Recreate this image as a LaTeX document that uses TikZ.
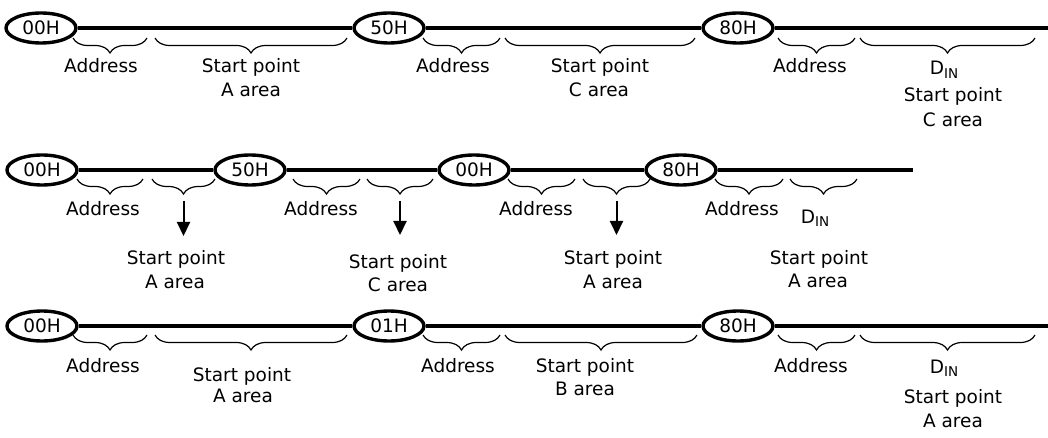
\documentclass[tikz,border=0pt]{standalone}
\usepackage{fontspec}
\setmainfont{DejaVu Sans}
\usetikzlibrary{shapes.geometric,decorations.pathreplacing,arrows.meta}
\newcommand{\Din}{D\raisebox{-3.5pt}{\fontsize{13.5}{14}\selectfont IN}}
\tikzset{
  addr/.style={ellipse, draw, line width=3.4pt, minimum width=70pt, minimum height=30pt,
               inner sep=0pt, font=\fontsize{18.5}{20}\selectfont},
  bus/.style={line width=3.8pt},
  brc/.style={decorate, decoration={brace, mirror, amplitude=15pt}, line width=1.2pt},
  lbl/.style={anchor=base, inner sep=0pt, font=\fontsize{18.5}{20}\selectfont},
  darr/.style={line width=2pt, -{Triangle[length=14pt,width=13pt]}},
}
\begin{document}
\begin{tikzpicture}[x=1pt, y=-1pt]
\path[use as bounding box] (0,0) rectangle (1048,438);

% ---------- Row 1 ----------
\node[addr] (r1a) at (41,28) {00H};
\node[addr] (r1b) at (389,28) {50H};
\node[addr] (r1c) at (738,28) {80H};
\coordinate (r1end) at (1048,28);
\draw[bus] (r1a) -- (r1b);
\draw[bus] (r1b) -- (r1c);
\draw[bus] (r1c) -- (r1end);

\draw[brc] (73,38) -- (147,38);
\draw[brc] (155,38) -- (347,38);
\draw[brc] (423,38) -- (500,38);
\draw[brc] (505,38) -- (695,38);
\draw[brc] (778,38) -- (855,38);
\draw[brc] (860,38) -- (1035,38);

\node[lbl] (t1a) at (101,73) {Address};
\node[lbl] (t1b) at (251,73) {Start point};
\node[lbl] (t1c) at (251,97) {A area};
\node[lbl] (t1d) at (453,73) {Address};
\node[lbl] (t1e) at (600,73) {Start point};
\node[lbl] (t1f) at (599,97) {C area};
\node[lbl] (t1g) at (810,73) {Address};
\node[lbl] (t1h) at (944,75) {\Din};
\node[lbl] (t1i) at (953,102) {Start point};
\node[lbl] (t1j) at (953,127) {C area};

% ---------- Row 2 ----------
\node[addr] (r2a) at (42,170) {00H};
\node[addr] (r2b) at (250,170) {50H};
\node[addr] (r2c) at (474,170) {00H};
\node[addr] (r2d) at (681,170) {80H};
\coordinate (r2end) at (913,170);
\draw[bus] (r2a) -- (r2b);
\draw[bus] (r2b) -- (r2c);
\draw[bus] (r2c) -- (r2d);
\draw[bus] (r2d) -- (r2end);

\draw[brc] (77,179) -- (143,179);
\draw[brc] (152,179) -- (215,179);
\draw[brc] (293,179) -- (360,179);
\draw[brc] (367,179) -- (433,179);
\draw[brc] (508,179) -- (575,179);
\draw[brc] (583,179) -- (650,179);
\draw[brc] (715,179) -- (783,179);
\draw[brc] (790,179) -- (857,179);

\coordinate (a1s) at (183.5,201); \coordinate (a1e) at (183.5,236);
\coordinate (a2s) at (400,201);   \coordinate (a2e) at (400,235);
\coordinate (a3s) at (616.5,201); \coordinate (a3e) at (616.5,235);
\draw[darr] (a1s) -- (a1e);
\draw[darr] (a2s) -- (a2e);
\draw[darr] (a3s) -- (a3e);

\node[lbl] (t2a) at (103,215) {Address};
\node[lbl] (t2b) at (176,264) {Start point};
\node[lbl] (t2c) at (175,288) {A area};
\node[lbl] (t2d) at (321,215) {Address};
\node[lbl] (t2e) at (398,268) {Start point};
\node[lbl] (t2f) at (398,291) {C area};
\node[lbl] (t2g) at (536,215) {Address};
\node[lbl] (t2h) at (613,264) {Start point};
\node[lbl] (t2i) at (613,288) {A area};
\node[lbl] (t2j) at (742,215) {Address};
\node[lbl] (t2k) at (815,223) {\Din};
\node[lbl] (t2l) at (819,264) {Start point};
\node[lbl] (t2m) at (818,287) {A area};

% ---------- Row 3 ----------
\node[addr] (r3a) at (42,326) {00H};
\node[addr] (r3b) at (389,326) {01H};
\node[addr] (r3c) at (738,326) {80H};
\coordinate (r3end) at (1048,326);
\draw[bus] (r3a) -- (r3b);
\draw[bus] (r3b) -- (r3c);
\draw[bus] (r3c) -- (r3end);

\draw[brc] (73,335) -- (147,335);
\draw[brc] (155,335) -- (347,335);
\draw[brc] (423,335) -- (500,335);
\draw[brc] (505,335) -- (697,335);
\draw[brc] (778,335) -- (855,335);
\draw[brc] (860,335) -- (1035,335);

\node[lbl] (t3a) at (103,372) {Address};
\node[lbl] (t3b) at (242,381) {Start point};
\node[lbl] (t3c) at (243,402) {A area};
\node[lbl] (t3d) at (458,372) {Address};
\node[lbl] (t3e) at (585,372) {Start point};
\node[lbl] (t3f) at (585,395) {B area};
\node[lbl] (t3g) at (811,372) {Address};
\node[lbl] (t3h) at (944,373) {\Din};
\node[lbl] (t3i) at (953,403) {Start point};
\node[lbl] (t3j) at (953,427) {A area};
\end{tikzpicture}
\end{document}
